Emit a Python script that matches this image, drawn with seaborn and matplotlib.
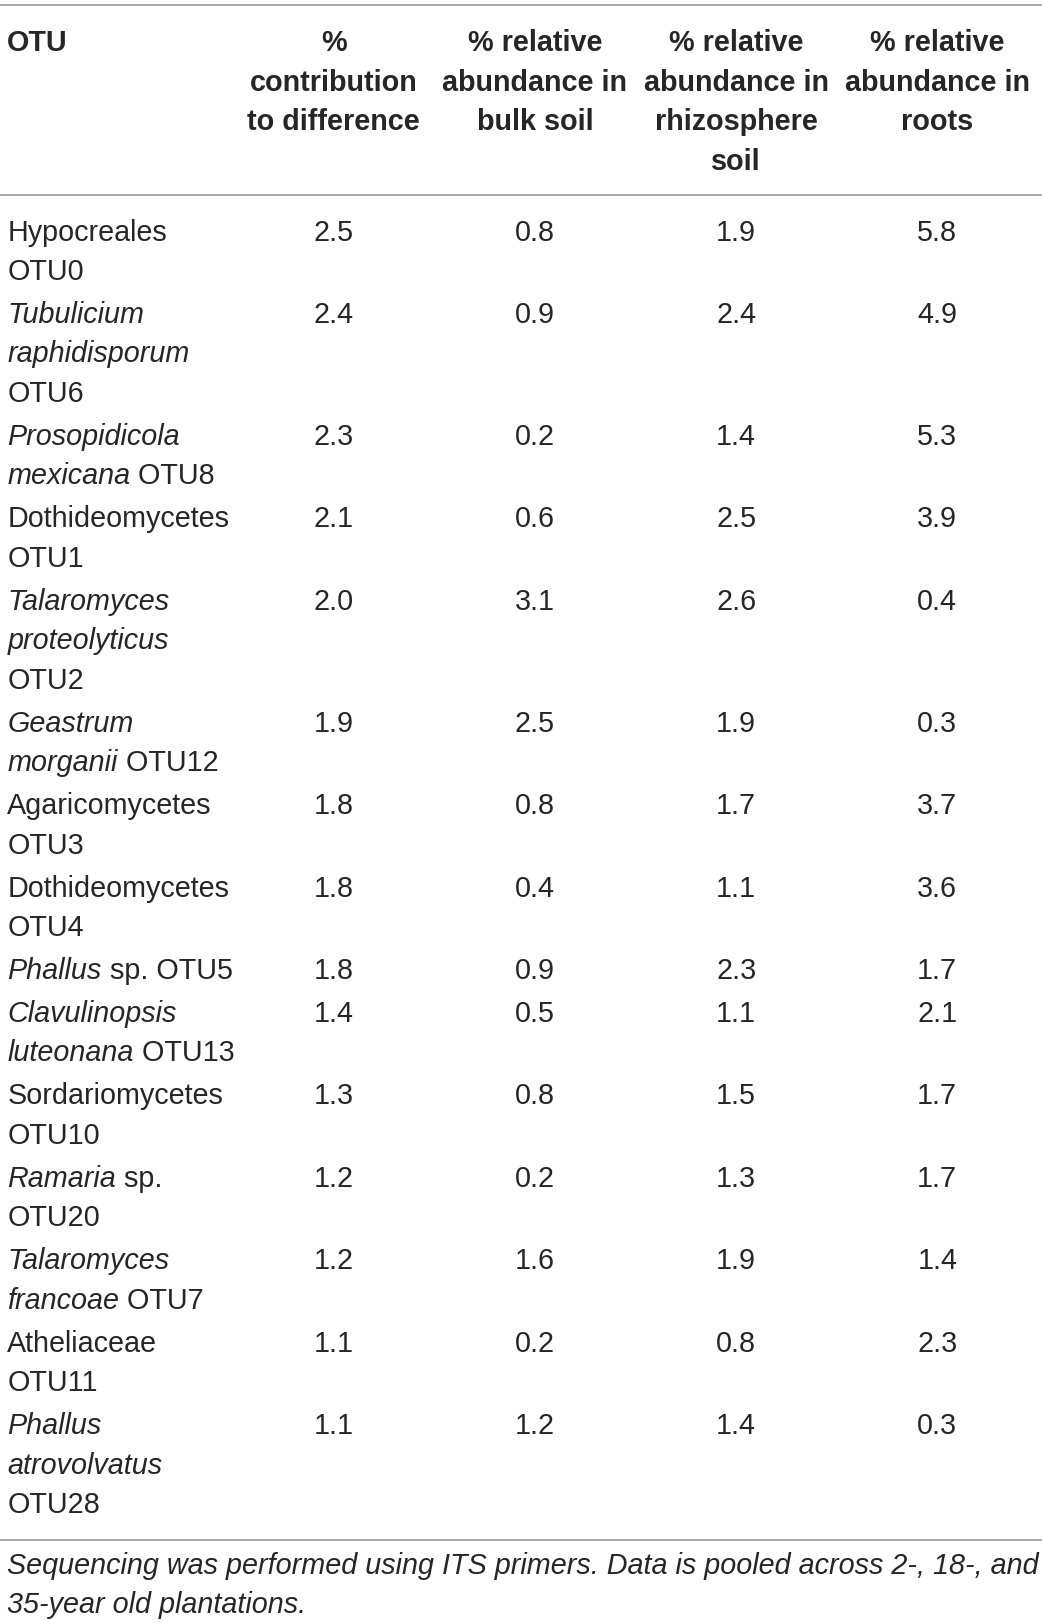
import matplotlib
matplotlib.use("Agg")
import matplotlib.pyplot as plt
import seaborn as sns
import pandas as pd

# table content
# *...* marks italic parts of the OTU names
otu_names = [
    "Hypocreales\nOTU0",
    "*Tubulicium*\n*raphidisporum*\nOTU6",
    "*Prosopidicola*\n*mexicana* OTU8",
    "Dothideomycetes\nOTU1",
    "*Talaromyces*\n*proteolyticus*\nOTU2",
    "*Geastrum*\n*morganii* OTU12",
    "Agaricomycetes\nOTU3",
    "Dothideomycetes\nOTU4",
    "*Phallus* sp. OTU5",
    "*Clavulinopsis*\n*luteonana* OTU13",
    "Sordariomycetes\nOTU10",
    "*Ramaria* sp.\nOTU20",
    "*Talaromyces*\n*francoae* OTU7",
    "Atheliaceae\nOTU11",
    "*Phallus*\n*atrovolvatus*\nOTU28",
]
contribution = [2.5, 2.4, 2.3, 2.1, 2.0, 1.9, 1.8, 1.8, 1.8, 1.4, 1.3, 1.2, 1.2, 1.1, 1.1]
bulk_soil = [0.8, 0.9, 0.2, 0.6, 3.1, 2.5, 0.8, 0.4, 0.9, 0.5, 0.8, 0.2, 1.6, 0.2, 1.2]
rhizosphere_soil = [1.9, 2.4, 1.4, 2.5, 2.6, 1.9, 1.7, 1.1, 2.3, 1.1, 1.5, 1.3, 1.9, 0.8, 1.4]
roots = [5.8, 4.9, 5.3, 3.9, 0.4, 0.3, 3.7, 3.6, 1.7, 2.1, 1.7, 1.7, 1.4, 2.3, 0.3]

headers = [
    "OTU",
    "%\ncontribution\nto difference",
    "% relative\nabundance in\nbulk soil",
    "% relative\nabundance in\nrhizosphere\nsoil",
    "% relative\nabundance in\nroots",
]
footnote = ("Sequencing was performed using ITS primers. Data is pooled across 2-, 18-, and\n"
            "35-year old plantations.")

df = pd.DataFrame({
    "OTU": otu_names,
    "contribution": contribution,
    "bulk": bulk_soil,
    "rhizo": rhizosphere_soil,
    "roots": roots,
})

sns.set_theme(style="white")
plt.rcParams["font.family"] = ["Liberation Sans", "DejaVu Sans"]

TXT = "#262626"
LINE = "#a6a6a6"
FS = 20.7
STEP = 38      # line height
PAD = 3.5      # extra gap between rows
col_x = [322, 516, 710, 904]

fig = plt.figure(figsize=(10.42, 16.23), dpi=100)
ax = fig.add_axes([0, 0, 1, 1])
ax.set_xlim(0, 1005)
ax.set_ylim(1565, 0)
ax.axis("off")


def draw_rich(x, y, line):
    parts = line.split("*")
    prev = None
    for i, p in enumerate(parts):
        if p == "":
            continue
        style = "italic" if i % 2 == 1 else "normal"
        if prev is None:
            prev = ax.text(x, y, p, fontsize=FS, color=TXT, style=style,
                           ha="left", va="baseline")
        else:
            prev = ax.annotate(p, xy=(1, 0), xycoords=prev, fontsize=FS,
                               color=TXT, style=style, ha="left", va="bottom")


# rules
for y in [5, 188, 1485]:
    ax.plot([0, 1005], [y, y], color=LINE, lw=1.4, solid_capstyle="butt")

# header
for j, h in enumerate(headers):
    for k, line in enumerate(h.split("\n")):
        yb = 49.5 + k * STEP
        if j == 0:
            ax.text(7, yb, line, fontsize=FS, fontweight="bold", color=TXT,
                    ha="left", va="baseline")
        else:
            ax.text(col_x[j - 1], yb, line, fontsize=FS, fontweight="bold",
                    color=TXT, ha="center", va="baseline")

# body
y = 232
for _, row in df.iterrows():
    lines = row["OTU"].split("\n")
    for k, line in enumerate(lines):
        draw_rich(7, y + k * STEP, line)
    for cx, key in zip(col_x, ["contribution", "bulk", "rhizo", "roots"]):
        ax.text(cx, y, f"{row[key]:.1f}", fontsize=FS, color=TXT,
                ha="center", va="baseline")
    y += len(lines) * STEP + PAD

# footnote
for k, line in enumerate(footnote.split("\n")):
    ax.text(7, 1518 + k * 37, line, fontsize=FS, style="italic",
            color=TXT, ha="left", va="baseline")

fig.savefig("out.png", dpi=100)
